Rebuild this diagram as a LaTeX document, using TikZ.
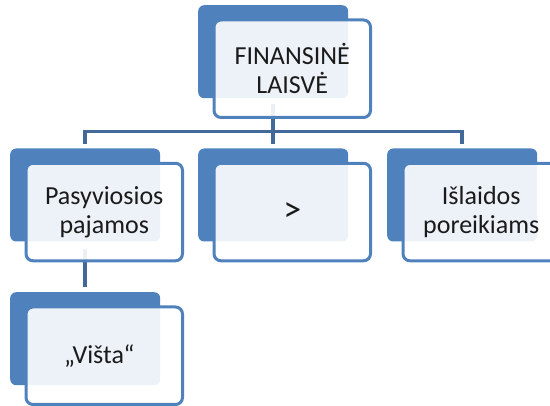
\documentclass[tikz,border=0pt]{standalone}
\usepackage{fontspec}
\setmainfont{Carlito}
\definecolor{accent}{HTML}{4F81BD}
\definecolor{linkblue}{HTML}{42699A}
\definecolor{inktext}{HTML}{1A1A1A}
\begin{document}
\begin{tikzpicture}[x=1pt,y=-1pt,
  backbox/.style={fill=accent, rounded corners=6pt, minimum width=150pt,
    minimum height=93pt, inner sep=0pt, anchor=north west},
  frontbox/.style={draw=accent, line width=3pt, fill=white, fill opacity=0.9,
    text opacity=1, rounded corners=7pt, minimum width=156.5pt,
    minimum height=97.5pt, inner sep=0pt, anchor=north west, align=center,
    text=inktext, font=\fontsize{26}{29}\selectfont},
  link/.style={draw=linkblue, line width=3.5pt}]
\useasboundingbox (0,0) rectangle (550,406);

% back (shadow) boxes
\node[backbox] (topb) at (198,5) {};
\node[backbox] (leftb) at (10,148.3) {};
\node[backbox] (midb) at (198,148.3) {};
\node[backbox] (rightb) at (387,148.3) {};
\node[backbox] (lowb) at (10,292) {};

% connectors of the hierarchy
\coordinate (bus) at (273,131.5);
\draw[link] ([yshift=-6pt]topb.south) -- (topb.south |- bus);
\draw[link] ([yshift=4pt]leftb.north) -- (leftb.north |- bus)
  -- (rightb.north |- bus) -- ([yshift=4pt]rightb.north);
\draw[link] (midb.north |- bus) -- ([yshift=4pt]midb.north);
\draw[link] ([yshift=-7pt]leftb.south) -- ([yshift=4.5pt]lowb.north);

% front boxes with the labels
\node[frontbox] (top) at (212.5,18.5) {FINANSINĖ\\LAISVĖ};
\node[frontbox] (left) at (24.5,161.8) {Pasyviosios\\pajamos};
\node[frontbox] (mid) at (212.5,161.8) {\raisebox{-2pt}{\fontsize{36}{29}\selectfont >}};
\node[frontbox] (right) at (401.5,161.8) {Išlaidos\\poreikiams};
\node[frontbox] (low) at (24.5,305.5) {\hspace*{-10pt}„Višta“};
\end{tikzpicture}
\end{document}
